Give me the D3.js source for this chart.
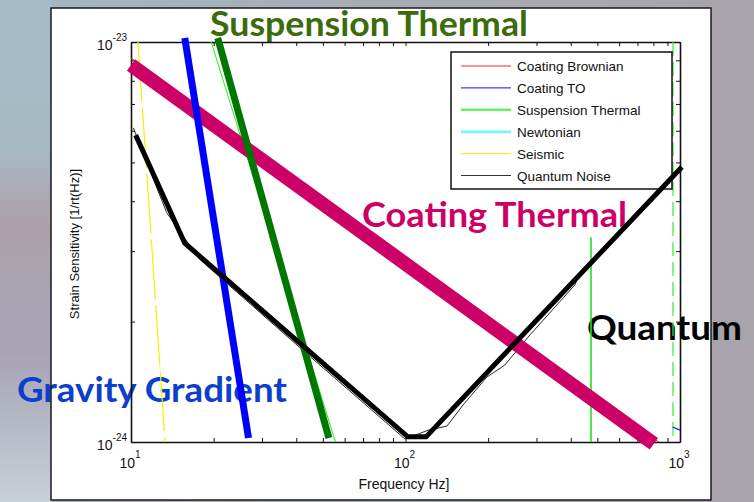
<!DOCTYPE html>
<html>
<head>
<meta charset="utf-8">
<script src="https://cdn.jsdelivr.net/npm/d3@7"></script>
<style>
  body { margin: 0; padding: 0; overflow: hidden; }
  svg { display: block; }
</style>
</head>
<body>
<div id="chart"></div>
<script>
// ---- data (frequency Hz, strain 1/rt(Hz)) ----
var coatingBrownian   = [[10, 9.12e-24], [870, 0.98e-24]];
var coatingTO         = [[940, 1.09e-24], [1000, 1.07e-24]];
var suspensionThermal = [[19.6, 1.0e-23], [56.1, 0.98e-24]];
var violinMode1       = [[474, 3.25e-24], [474, 1.0e-24]];
var violinMode2       = [[943, 1.0e-23], [943, 1.0e-24]];
var seismic           = [[10.6, 1.0e-23], [13.3, 1.0e-24]];
var quantumNoise      = [[10.2, 6.1e-24], [11.7, 4.79e-24], [13.5, 3.74e-24], [17.8, 2.86e-24],
                         [41.3, 1.72e-24], [99.6, 1.017e-24], [120.8, 1.07e-24], [141.6, 1.096e-24],
                         [162, 1.237e-24], [198, 1.454e-24], [230, 1.557e-24], [284, 1.852e-24],
                         [414, 2.47e-24], [433, 2.66e-24], [604, 3.33e-24], [1000, 4.84e-24]];

// hand drawn annotation strokes
var coatingThermalMark = [[10, 8.76e-24], [803, 0.99e-24]];
var gravityMark        = [[15.7, 1.023e-23], [26.8, 1.023e-24]];
var suspensionMark     = [[20.7, 1.023e-23], [52.6, 1.023e-24]];
var quantumMark        = [[10.4, 5.85e-24], [15.7, 3.14e-24], [102, 1.03e-24], [118.8, 1.03e-24], [1016, 4.87e-24]];

var legendNames  = ["Coating Brownian", "Coating TO", "Suspension Thermal", "Newtonian", "Seismic", "Quantum Noise"];
var legendColors = ["#ff2020", "#1010ee", "#66ee66", "#66ffff", "#f0f000", "#333333"];
var legendWidths = [1, 1, 2.5, 2.5, 1, 1];

var xMajor = [10, 100, 1000];
var xLabels = ["1", "2", "3"];
var yMajor = [1e-24, 1e-23];
var yLabels = ["-24", "-23"];

var width = 754, height = 502;
var plot = {left: 131, top: 42, right: 680, bottom: 442};

var svg = d3.select("#chart").append("svg")
    .attr("width", width)
    .attr("height", height);

var defs = svg.append("defs");
var bg = defs.append("linearGradient").attr("id", "bg").attr("x1", 0).attr("x2", 1).attr("y1", 0).attr("y2", 0);
bg.append("stop").attr("offset", "0%").attr("stop-color", "#a0b8c3");
bg.append("stop").attr("offset", "50%").attr("stop-color", "#a8adb5");
bg.append("stop").attr("offset", "100%").attr("stop-color", "#a9a3aa");
var side = defs.append("linearGradient").attr("id", "side").attr("x1", 0).attr("x2", 0).attr("y1", 0).attr("y2", 1);
[["0%", "#a3bcc7"], ["30%", "#a7b9c3"], ["45%", "#ad9fa9"], ["55%", "#a9a4b0"], ["70%", "#a8a2b6"],
 ["85%", "#b6bac6"], ["100%", "#c8d0d8"]].forEach(function(s) {
  side.append("stop").attr("offset", s[0]).attr("stop-color", s[1]);
});
defs.append("clipPath").attr("id", "clip")
  .append("rect")
    .attr("x", plot.left).attr("y", plot.top)
    .attr("width", plot.right - plot.left).attr("height", plot.bottom - plot.top);

// slide background
svg.append("rect").attr("width", width).attr("height", height).attr("fill", "url(#bg)");
svg.append("rect").attr("width", 52).attr("height", height).attr("fill", "url(#side)");

// white figure panel
svg.append("rect")
    .attr("x", 51).attr("y", 8).attr("width", 660).attr("height", 492)
    .attr("fill", "white");

var x = d3.scaleLog().domain([10, 1000]).range([plot.left, plot.right]);
var y = d3.scaleLog().domain([1e-24, 1e-23]).range([plot.bottom, plot.top]);

// big annotation words (sit under the lines)
var words = [
  {t: "Suspension Thermal", x: 210, y: 36, len: 318, size: 35, c: "#3c6b0b"},
  {t: "Coating Thermal",    x: 362, y: 227, len: 265, size: 34, c: "#cc0066"},
  {t: "Gravity Gradient",   x: 17,  y: 402, len: 270, size: 34, c: "#0c3fcc"},
  {t: "Quantum",            x: 587, y: 340, len: 155, size: 34, c: "#000000"}
];
svg.selectAll("text.word")
  .data(words)
  .enter()
  .append("text")
    .attr("class", "word")
    .attr("x", function(d) { return d.x; })
    .attr("y", function(d) { return d.y; })
    .attr("textLength", function(d) { return d.len; })
    .attr("lengthAdjust", "spacingAndGlyphs")
    .style("font-family", "Lato, 'Open Sans', sans-serif")
    .style("font-weight", "bold")
    .style("font-size", function(d) { return d.size + "px"; })
    .style("fill", function(d) { return d.c; })
    .text(function(d) { return d.t; });

// panel border
svg.append("rect")
    .attr("x", 51).attr("y", 8).attr("width", 660).attr("height", 492)
    .attr("fill", "none").attr("stroke", "#1a1a1a").attr("stroke-width", 1.5);

// axes, matlab style: ticks inside, box all round
var xTicks = [];
[10, 100].forEach(function(d) { for (var k = 1; k <= 9; k++) xTicks.push(d * k); });
xTicks.push(1000);
var yTicks = [];
for (var k = 1; k <= 10; k++) yTicks.push(k * 1e-24);

function noLabel() { return ""; }
var gx = svg.append("g").attr("transform", "translate(0," + plot.bottom + ")")
    .call(d3.axisBottom(x).tickValues(xTicks).tickSize(-4).tickSizeOuter(0).tickFormat(noLabel));
var gx2 = svg.append("g").attr("transform", "translate(0," + plot.top + ")")
    .call(d3.axisTop(x).tickValues(xTicks).tickSize(-4).tickSizeOuter(0).tickFormat(noLabel));
var gy = svg.append("g").attr("transform", "translate(" + plot.left + ",0)")
    .call(d3.axisLeft(y).tickValues(yTicks).tickSize(-4).tickSizeOuter(0).tickFormat(noLabel));
var gy2 = svg.append("g").attr("transform", "translate(" + plot.right + ",0)")
    .call(d3.axisRight(y).tickValues(yTicks).tickSize(-4).tickSizeOuter(0).tickFormat(noLabel));
[gx, gx2, gy, gy2].forEach(function(g) {
  g.select(".domain").attr("stroke", "#111").attr("stroke-width", 1.6);
  g.selectAll(".tick line").attr("stroke", "#111").attr("stroke-width", 1);
});

var axisFont = "'Liberation Sans', Arial, sans-serif";

// x tick labels 10^n
var xl = svg.selectAll("text.xl")
  .data(xMajor)
  .enter()
  .append("text")
    .attr("class", "xl")
    .attr("x", function(d) { return x(d) - 1; })
    .attr("y", plot.bottom + 26)
    .attr("text-anchor", "middle")
    .style("font-family", axisFont)
    .style("font-size", "14px")
    .style("fill", "#111");
xl.append("tspan").text("10");
xl.append("tspan")
    .attr("dy", -10)
    .style("font-size", "10px")
    .text(function(d, i) { return xLabels[i]; });

// y tick labels 10^-n
var yl = svg.selectAll("text.yl")
  .data(yMajor)
  .enter()
  .append("text")
    .attr("class", "yl")
    .attr("x", plot.left - 4)
    .attr("y", function(d) { return y(d) + 8; })
    .attr("text-anchor", "end")
    .style("font-family", axisFont)
    .style("font-size", "14px")
    .style("fill", "#111");
yl.append("tspan").text("10");
yl.append("tspan")
    .attr("dy", -9)
    .style("font-size", "10px")
    .text(function(d, i) { return yLabels[i]; });

svg.append("text")
    .attr("x", 404).attr("y", 489)
    .attr("text-anchor", "middle")
    .style("font-family", axisFont)
    .style("font-size", "14px")
    .style("fill", "#111")
    .text("Frequency Hz]");

svg.append("text")
    .attr("transform", "translate(79,244) rotate(-90)")
    .attr("text-anchor", "middle")
    .style("font-family", axisFont)
    .style("font-size", "13px")
    .style("fill", "#111")
    .text("Strain Sensitivity [1/rt(Hz)]");

// thin model curves
var line = d3.line()
    .x(function(d) { return x(d[0]); })
    .y(function(d) { return y(d[1]); });

var curves = [
  {d: seismic, c: "#f2f200", w: 1.2, dash: "60,6"},
  {d: suspensionThermal, c: "#22ee22", w: 1, dash: null},
  {d: violinMode1, c: "#22e022", w: 1.6, dash: null},
  {d: violinMode2, c: "#33ee33", w: 1.2, dash: "14,6"},
  {d: coatingBrownian, c: "#ff2020", w: 1, dash: null},
  {d: coatingTO, c: "#1010ee", w: 1.2, dash: null},
  {d: quantumNoise, c: "#111", w: 0.9, dash: null}
];
svg.append("g").attr("clip-path", "url(#clip)")
  .selectAll("path")
  .data(curves)
  .enter()
  .append("path")
    .attr("d", function(d) { return line(d.d); })
    .attr("fill", "none")
    .attr("stroke", function(d) { return d.c; })
    .attr("stroke-width", function(d) { return d.w; })
    .attr("stroke-dasharray", function(d) { return d.dash; });

// legend
var lg = svg.append("g");
lg.append("rect")
    .attr("x", 451).attr("y", 52).attr("width", 221).attr("height", 137)
    .attr("fill", "white").attr("stroke", "#111").attr("stroke-width", 1.5);
var rows = lg.selectAll("g.row")
  .data(legendNames)
  .enter()
  .append("g")
    .attr("class", "row")
    .attr("transform", function(d, i) { return "translate(0," + (66 + i * 21.9) + ")"; });
rows.append("line")
    .attr("x1", 461).attr("x2", 511)
    .attr("stroke", function(d, i) { return legendColors[i]; })
    .attr("stroke-width", function(d, i) { return legendWidths[i]; });
rows.append("text")
    .attr("x", 517).attr("y", 5)
    .style("font-family", axisFont)
    .style("font-size", "13.5px")
    .style("fill", "#111")
    .text(function(d) { return d; });

// thick highlight strokes on top
var marks = [
  {d: coatingThermalMark, c: "#cc0066", w: 14},
  {d: gravityMark, c: "#0000ff", w: 7},
  {d: suspensionMark, c: "#007700", w: 7},
  {d: quantumMark, c: "#000000", w: 5}
];
svg.append("g")
  .selectAll("path")
  .data(marks)
  .enter()
  .append("path")
    .attr("d", function(d) { return line(d.d); })
    .attr("fill", "none")
    .attr("stroke", function(d) { return d.c; })
    .attr("stroke-width", function(d) { return d.w; })
    .attr("stroke-linejoin", "miter");
</script>
</body>
</html>
